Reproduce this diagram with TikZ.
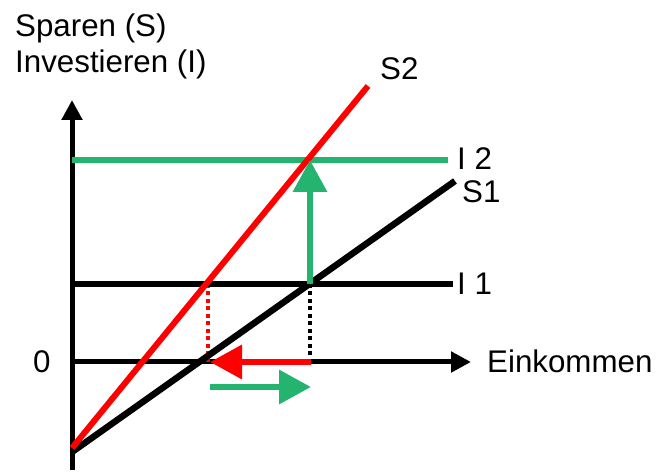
\documentclass[tikz,border=0pt]{standalone}
\usepackage{fontspec}
\setmainfont{Liberation Sans}
\usetikzlibrary{arrows.meta}
\definecolor{kgreen}{RGB}{36,180,112}
\definecolor{kred}{RGB}{255,0,0}
\begin{document}
\begin{tikzpicture}[x=1pt,y=-1pt,
  lbl/.style={font=\fontsize{31.3}{36}\selectfont, inner sep=0pt, anchor=base west},
  axisline/.style={line width=5pt, -{Triangle[length=20pt,width=20pt]}},
  thick line/.style={line width=6.5pt},
  bigarrow/.style={line width=6.5pt, -{Triangle[length=32pt,width=33pt]}},
  dotline/.style={line width=3.5pt, dash pattern=on 4pt off 3.5pt}]
\useasboundingbox (0,0) rectangle (657,473);
% coordinates
\coordinate (ybot) at (72,470);
\coordinate (ytop) at (72,100);
\coordinate (xl) at (72,362);
\coordinate (xr) at (471,362);
\coordinate (i1l) at (72,284);
\coordinate (i1r) at (453,284);
\coordinate (i2l) at (72,160);
\coordinate (i2r) at (448,160);
\coordinate (s1a) at (72,452);
\coordinate (s1b) at (455,181);
\coordinate (s2a) at (72,448);
\coordinate (s2b) at (368,86);
\coordinate (p1) at (310,284);
\coordinate (p1x) at (310,362);
\coordinate (p2) at (310,160);
\coordinate (q1) at (208,284);
\coordinate (q1x) at (208,362);
\coordinate (ra) at (311,362);
\coordinate (rb) at (210,362);
\coordinate (ga) at (210,387);
\coordinate (gb) at (311,387);
% axes
\draw[axisline] (ybot) -- (ytop);
\draw[axisline] (xl) -- (xr);
% dotted
\draw[dotline, black] (p1) -- (p1x);
\draw[dotline, kred] (q1) -- (q1x);
% horizontal lines
\draw[thick line, black] (i1l) -- (i1r);
\draw[thick line, kgreen] (i2l) -- (i2r);
% savings lines
\draw[thick line, black] (s1a) -- (s1b);
\draw[line width=6pt, kred] (s2a) -- (s2b);
% arrows
\draw[bigarrow, kgreen] (p1) -- (p2);
\draw[bigarrow, kred] (ra) -- (rb);
\draw[bigarrow, kgreen] (ga) -- (gb);
% labels
\node[lbl] (t1) at (15,37) {Sparen (S)};
\node[lbl] (t2) at (15,73) {Investieren (I)};
\node[lbl] (ts2) at (380,80) {S2};
\node[lbl] (ti2) at (457,170) {I 2};
\node[lbl] (ts1) at (462,203) {S1};
\node[lbl] (ti1) at (457,295) {I 1};
\node[lbl] (t0) at (33,373) {0};
\node[lbl] (te) at (487,373) {Einkommen};
\end{tikzpicture}
\end{document}
